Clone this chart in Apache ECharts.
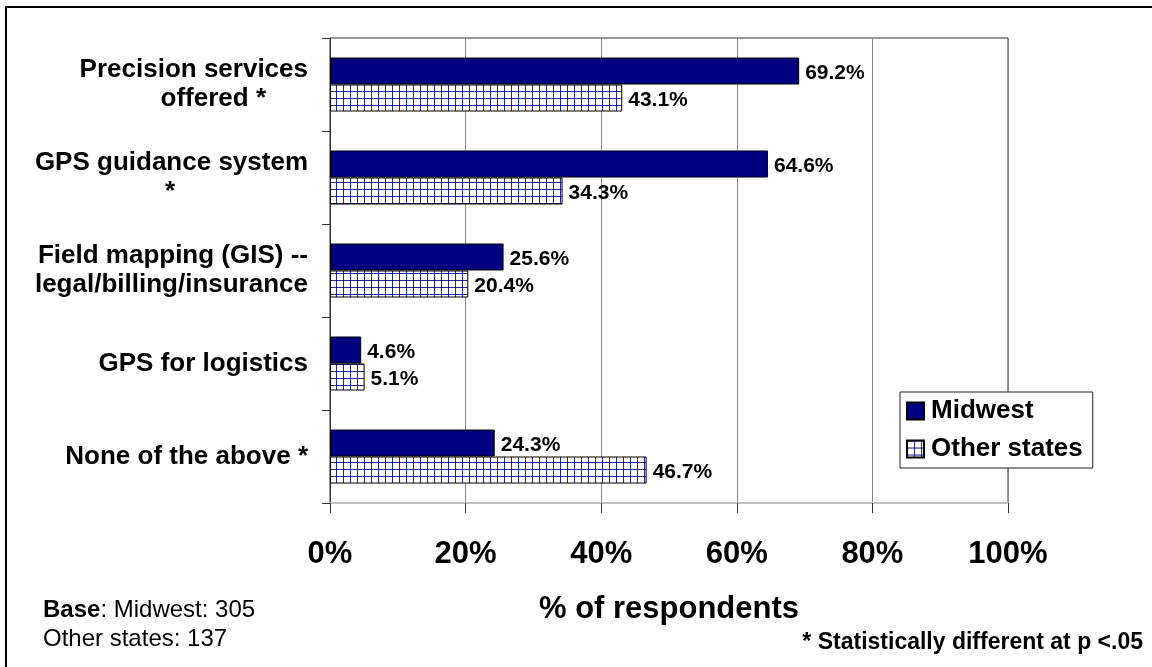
<!DOCTYPE html>
<html>
<head>
<meta charset="utf-8">
<title>Services used</title>
<script src="https://cdn.jsdelivr.net/npm/echarts@6/dist/echarts.min.js"></script>
<style>
  html, body { margin: 0; padding: 0; background: #fff; }
  #chart { width: 1152px; height: 667px; }
</style>
</head>
<body>
<div id="chart"></div>
<script>
// Survey categories (top to bottom) and the share of respondents per region
const categories = [
  'Precision services\noffered *',
  'GPS guidance system\n*',
  'Field mapping (GIS) --\nlegal/billing/insurance',
  'GPS for logistics',
  'None of the above *'
];
const midwest = [69.2, 64.6, 25.6, 4.6, 24.3];
const otherStates = [43.1, 34.3, 20.4, 5.1, 46.7];
const seriesNames = ['Midwest', 'Other states'];
const xTicks = { min: 0, max: 100, interval: 20 };

const FONT = "'Liberation Sans', Arial, sans-serif";
const NAVY = '#000080';

// Cross-hatch fill for the "Other states" bars
function gridPattern() {
  const c = document.createElement('canvas');
  c.width = 7; c.height = 7;
  const g = c.getContext('2d');
  g.fillStyle = '#fff';
  g.fillRect(0, 0, 7, 7);
  g.fillStyle = 'rgba(0,0,128,0.85)';
  g.fillRect(0, 0, 1, 7);
  g.fillRect(0, 0, 7, 1);
  return c;
}

// Short second lines sit a bit left of the right edge
const lineStyle = {
  'offered *': 'o',
  '*': 's'
};
function categoryLabel(value) {
  return value.split('\n').map(function (line) {
    return '{' + (lineStyle[line] || 'a') + '|' + line + '}';
  }).join('\n');
}

const labelFont = { fontFamily: FONT, fontWeight: 'bold', fontSize: 26, color: '#000', lineHeight: 29 };
const valueLabel = {
  show: true, position: 'right', distance: 6, offset: [0, 2],
  formatter: '{c}%',
  fontFamily: FONT, fontWeight: 'bold', fontSize: 21, color: '#000'
};

const chart = echarts.init(document.getElementById('chart'), null, { renderer: 'canvas' });

chart.setOption({
  animation: false,
  backgroundColor: '#fff',
  grid: {
    left: 330, top: 38, right: 144, bottom: 164,
    show: true, borderColor: '#333', borderWidth: 1, backgroundColor: '#fff'
  },
  legend: {
    data: seriesNames,
    orient: 'vertical',
    left: 900, top: 392,
    backgroundColor: '#fff',
    borderColor: '#222', borderWidth: 1,
    padding: [6, 10, 6, 6],
    icon: 'rect',
    itemWidth: 17, itemHeight: 17, itemGap: 12,
    textStyle: { fontFamily: FONT, fontWeight: 'bold', fontSize: 26, color: '#000', padding: [0, 0, 0, 2] }
  },
  xAxis: {
    type: 'value',
    min: xTicks.min, max: xTicks.max, interval: xTicks.interval,
    name: '% of respondents',
    nameLocation: 'middle',
    nameGap: 91,
    nameTextStyle: { fontFamily: FONT, fontWeight: 'bold', fontSize: 31, color: '#000' },
    axisLine: { show: true, lineStyle: { color: '#c0c0c0', width: 2 } },
    axisTick: { show: true, length: 10, lineStyle: { color: '#333' } },
    splitLine: { show: true, lineStyle: { color: '#888', width: 1 } },
    axisLabel: {
      formatter: '{value}%',
      margin: 36,
      fontFamily: FONT, fontWeight: 'bold', fontSize: 31, color: '#000'
    }
  },
  yAxis: {
    type: 'category',
    inverse: true,
    data: categories,
    axisLine: { show: true, lineStyle: { color: '#333', width: 1 } },
    axisTick: { show: true, length: 8, lineStyle: { color: '#333' } },
    axisLabel: {
      margin: 22,
      align: 'right',
      formatter: categoryLabel,
      rich: {
        a: labelFont,
        o: Object.assign({}, labelFont, { padding: [0, 42, 0, 0] }),
        s: Object.assign({}, labelFont, { padding: [0, 133, 0, 0] })
      }
    }
  },
  series: [
    {
      name: seriesNames[0],
      type: 'bar',
      data: midwest,
      barWidth: 27,
      barGap: '0%',
      itemStyle: { color: NAVY, borderColor: '#000', borderWidth: 1 },
      label: valueLabel
    },
    {
      name: seriesNames[1],
      type: 'bar',
      data: otherStates,
      barWidth: 27,
      barGap: '0%',
      itemStyle: {
        color: { image: gridPattern(), repeat: 'repeat' },
        borderColor: '#000', borderWidth: 1
      },
      label: valueLabel
    }
  ],
  graphic: [
    {
      type: 'rect',
      shape: { x: 6, y: 7, width: 1200, height: 720 },
      style: { fill: 'none', stroke: '#000', lineWidth: 2 },
      silent: true
    },
    {
      type: 'text',
      left: 43, top: 598,
      style: {
        text: '{b|Base}{r|: Midwest: 305}\n{r|Other states: 137}',
        rich: {
          b: { fontFamily: FONT, fontWeight: 'bold', fontSize: 24, color: '#000', lineHeight: 29 },
          r: { fontFamily: FONT, fontSize: 24, color: '#000', lineHeight: 29 }
        }
      }
    },
    {
      type: 'text',
      right: 9, top: 631,
      style: {
        text: '* Statistically different at p <.05',
        fontFamily: FONT, fontWeight: 'bold', fontSize: 23, fill: '#000'
      }
    }
  ]
});
</script>
</body>
</html>
